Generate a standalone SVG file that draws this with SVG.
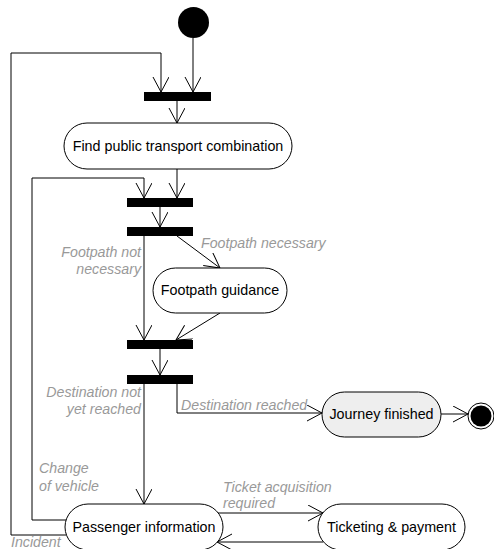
<svg xmlns="http://www.w3.org/2000/svg" width="494" height="549" viewBox="0 0 494 549">
<style>
.node{fill:#fff;stroke:#000;stroke-width:1}
.bar{fill:#000}
.t{font-family:"Liberation Sans",Arial,sans-serif;font-size:14.3px;fill:#000;text-anchor:middle}
.l{font-family:"Liberation Sans",Arial,sans-serif;font-size:14.2px;font-style:italic;fill:#999}
.r{text-anchor:end}
.c{fill:none;stroke:#000;stroke-width:1;marker-end:url(#a)}
</style>
<defs>
<marker id="a" markerUnits="userSpaceOnUse" markerWidth="16" markerHeight="18" refX="15" refY="8" orient="auto">
<path d="M0,0 L15,8 L0,16" fill="none" stroke="#000" stroke-width="1"/>
</marker>
</defs>
<rect width="494" height="549" fill="#fff"/>
<g id="connectors">
<path class="c" d="M193,38 V92"/>
<path class="c" d="M66,535 H11 V53 H161 V92"/>
<path class="c" d="M177,101 V123"/>
<path class="c" d="M177,169 V198"/>
<path class="c" d="M66,520 H32 V178 H144 V198"/>
<path class="c" d="M160,207 V227"/>
<path class="c" d="M144,236 V340"/>
<path class="c" d="M177,236 L220,268"/>
<path class="c" d="M220,313 L176,340"/>
<path class="c" d="M160,349 V375"/>
<path class="c" d="M177,384 V413 H322"/>
<path class="c" d="M144,384 V504"/>
<path class="c" d="M441,414 H468"/>
<path class="c" d="M218,513 H323"/>
<path class="c" d="M323,542 H217"/>
</g>
<g id="labels">
<text class="l r" x="141" y="257">Footpath not</text>
<text class="l r" x="141" y="274">necessary</text>
<text class="l" x="201" y="248">Footpath necessary</text>
<text class="l r" x="141" y="397">Destination not</text>
<text class="l r" x="141" y="414">yet reached</text>
<text class="l" x="181" y="410">Destination reached</text>
<text class="l" x="39" y="473">Change</text>
<text class="l" x="39" y="491">of vehicle</text>
<text class="l" x="223" y="492">Ticket acquisition</text>
<text class="l" x="223" y="508">required</text>
<text class="l" x="11" y="547">Incident</text>
</g>
<g id="start"><circle cx="193.5" cy="22.5" r="15.5" fill="#000"/></g>
<g id="bar1"><rect class="bar" x="144" y="92" width="67" height="9"/></g>
<g id="find"><rect class="node" x="64" y="123" width="228" height="46" rx="23"/><text class="t" x="178" y="151">Find public transport combination</text></g>
<g id="bar2"><rect class="bar" x="127" y="198" width="66" height="9"/></g>
<g id="bar3"><rect class="bar" x="127" y="227" width="66" height="9"/></g>
<g id="footpath"><rect class="node" x="153" y="268" width="134" height="45" rx="22.5"/><text class="t" x="220" y="295">Footpath guidance</text></g>
<g id="bar4"><rect class="bar" x="127" y="340" width="66" height="9"/></g>
<g id="bar5"><rect class="bar" x="127" y="375" width="66" height="9"/></g>
<g id="journey"><rect class="node" x="322" y="392" width="119" height="45" rx="22.5" style="fill:#eee"/><text class="t" x="381.5" y="419">Journey finished</text></g>
<g id="end"><circle cx="481" cy="416" r="13" fill="#fff" stroke="#000"/><circle cx="481" cy="416" r="10.5" fill="#000"/></g>
<g id="passenger"><rect class="node" x="65" y="504" width="158" height="46" rx="23"/><text class="t" x="144" y="532">Passenger information</text></g>
<g id="ticketing"><rect class="node" x="318" y="504" width="147" height="46" rx="23"/><text class="t" x="391.5" y="532">Ticketing &amp; payment</text></g>
</svg>
